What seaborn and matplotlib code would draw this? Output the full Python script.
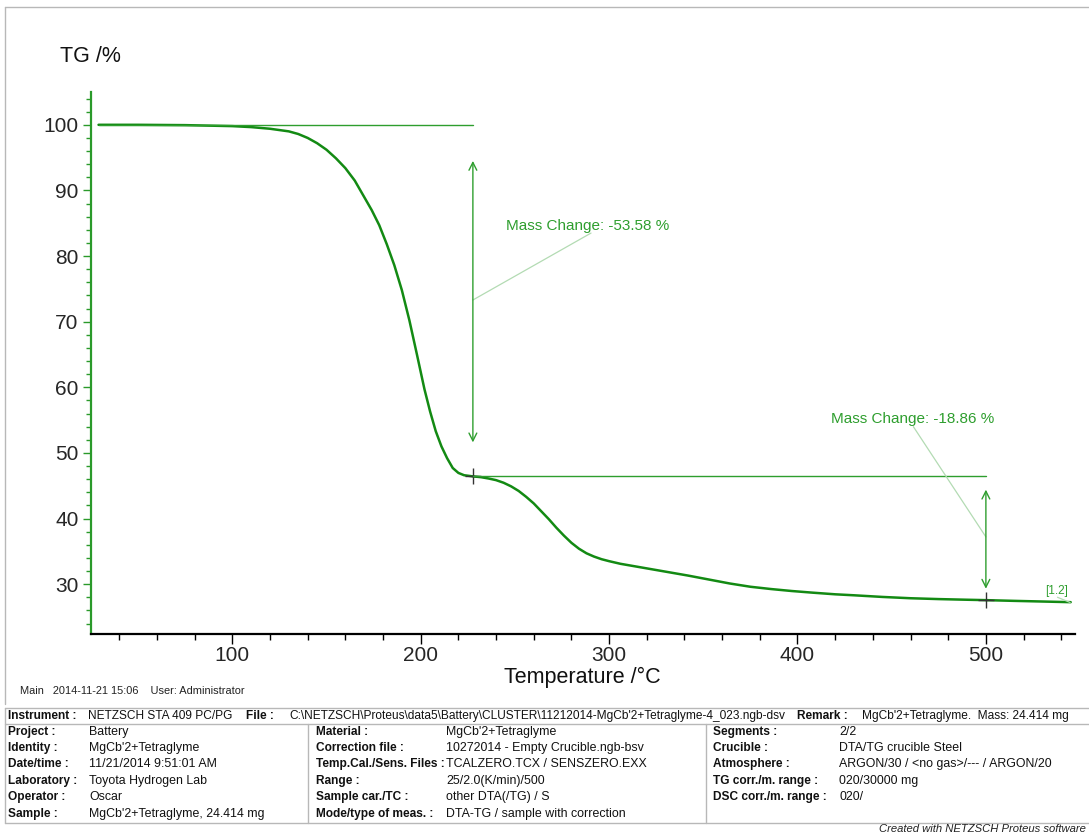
import matplotlib
matplotlib.use("Agg")
import matplotlib.pyplot as plt
from matplotlib.lines import Line2D
from matplotlib.ticker import MultipleLocator
import seaborn as sns
import pandas as pd

# ---------------- data ----------------
temperature = [29, 50, 75, 100, 110, 120, 130, 135, 140, 145, 150, 155, 160, 165,
               170, 174, 178, 182, 186, 190, 194, 198, 202, 205, 208, 211, 214,
               217, 220, 223, 227.7, 232, 236, 240, 244, 248, 252, 256, 260, 264,
               268, 272, 276, 280, 284, 288, 292, 296, 300, 306, 312, 320, 330,
               342, 353, 364, 375, 386, 397, 408, 420, 430, 445, 460, 475, 490,
               500, 515, 530, 545]
tg_percent = [100.0, 100.0, 99.95, 99.8, 99.65, 99.4, 99.0, 98.6, 98.0, 97.2,
              96.2, 94.9, 93.4, 91.5, 89.0, 87.0, 84.7, 81.8, 78.6, 74.8, 70.2,
              65.0, 59.7, 56.3, 53.3, 51.0, 49.2, 47.7, 46.95, 46.6, 46.42, 46.3,
              46.1, 45.85, 45.45, 44.9, 44.2, 43.3, 42.3, 41.1, 39.9, 38.6, 37.4,
              36.3, 35.4, 34.7, 34.2, 33.8, 33.5, 33.1, 32.8, 32.4, 31.9, 31.3,
              30.7, 30.1, 29.6, 29.25, 28.95, 28.7, 28.45, 28.3, 28.05, 27.85,
              27.72, 27.62, 27.56, 27.45, 27.35, 27.25]

step_start_temp = [29, 227.7]
step_end_temp = [227.7, 500]
step_start_tg = [100.0, 46.42]
mass_change = [-53.58, -18.86]
step_labels = ["Mass Change: -53.58 %", "Mass Change: -18.86 %"]

x_ticks = [100, 200, 300, 400, 500]
y_ticks = [30, 40, 50, 60, 70, 80, 90, 100]

info_header = [("Instrument :", True), ("NETZSCH STA 409 PC/PG", False),
               ("File :", True),
               ("C:\\NETZSCH\\Proteus\\data5\\Battery\\CLUSTER\\11212014-MgCb'2+Tetraglyme-4_023.ngb-dsv", False),
               ("Remark :", True), ("MgCb'2+Tetraglyme.  Mass: 24.414 mg", False)]
col1_labels = ["Project :", "Identity :", "Date/time :", "Laboratory :", "Operator :", "Sample :"]
col1_values = ["Battery", "MgCb'2+Tetraglyme", "11/21/2014 9:51:01 AM",
               "Toyota Hydrogen Lab", "Oscar", "MgCb'2+Tetraglyme, 24.414 mg"]
col2_labels = ["Material :", "Correction file :", "Temp.Cal./Sens. Files :", "Range :",
               "Sample car./TC :", "Mode/type of meas. :"]
col2_values = ["MgCb'2+Tetraglyme", "10272014 - Empty Crucible.ngb-bsv",
               "TCALZERO.TCX / SENSZERO.EXX", "25/2.0(K/min)/500",
               "other DTA(/TG) / S", "DTA-TG / sample with correction"]
col3_labels = ["Segments :", "Crucible :", "Atmosphere :", "TG corr./m. range :",
               "DSC corr./m. range :"]
col3_values = ["2/2", "DTA/TG crucible Steel", "ARGON/30 / <no gas>/--- / ARGON/20",
               "020/30000 mg", "020/"]

# ---------------- style ----------------
sns.set_theme(style="white")
plt.rcParams["font.family"] = ["Liberation Sans", "DejaVu Sans"]

W, H = 1089, 835
fig = plt.figure(figsize=(W / 100, H / 100), dpi=100)
fig.patch.set_facecolor("white")


def px(x, y):
    return x / W, 1 - y / H


CURVE = "#138a13"
ANNO = "#2e9e2e"
LEADER = "#b3dbb3"

ax = fig.add_axes([91 / W, 1 - 634 / H, 984 / W, 542 / H])
ax.set_facecolor("white")

df = pd.DataFrame({"Temperature": temperature, "TG": tg_percent})
sns.lineplot(data=df, x="Temperature", y="TG", ax=ax, color=CURVE, lw=1.8,
             sort=True, estimator=None, solid_joinstyle="round")

ax.set_xlim(25, 547.3)
ax.set_ylim(22.4, 105)
ax.set_xticks(x_ticks)
ax.set_yticks(y_ticks)
ax.xaxis.set_minor_locator(MultipleLocator(20))
ax.yaxis.set_minor_locator(MultipleLocator(2))
ax.tick_params(axis="x", which="major", direction="out", length=7, width=1,
               color="black", labelsize=15, pad=1.5, bottom=True)
ax.tick_params(axis="x", which="minor", direction="out", length=4, width=1,
               color="black", bottom=True)
ax.tick_params(axis="y", which="major", direction="out", length=6, width=1,
               color="#2a9a2a", labelsize=15, pad=3, left=True)
ax.tick_params(axis="y", which="minor", direction="out", length=3.5, width=1,
               color="#2a9a2a", left=True)
for s in ["top", "right"]:
    ax.spines[s].set_visible(False)
ax.spines["left"].set_color("#2a9a2a")
ax.spines["left"].set_linewidth(1.6)
ax.spines["bottom"].set_color("black")
ax.spines["bottom"].set_linewidth(1.6)
ax.set_xlabel("")
ax.set_ylabel("")

# step annotations
arrow_ranges = [(51.6, 94.5), (29.3, 44.4)]
leaders = [((227.7, 73.3), (290.4, 83.5)), ((500, 37.2), (461.5, 54.0))]
label_pos = [(245.2, 84.6), (417.6, 55.1)]
for i in range(2):
    ax.plot([step_start_temp[i], step_end_temp[i]], [step_start_tg[i]] * 2,
            color=ANNO, lw=1.0)
    lo, hi = arrow_ranges[i]
    ax.annotate("", xy=(step_end_temp[i], lo), xytext=(step_end_temp[i], hi),
                arrowprops=dict(arrowstyle="<->", color=ANNO, lw=1.0,
                                mutation_scale=14, shrinkA=0, shrinkB=0))
    (x0, y0), (x1, y1) = leaders[i]
    ax.plot([x0, x1], [y0, y1], color=LEADER, lw=0.9)
    ax.text(label_pos[i][0], label_pos[i][1], step_labels[i], color=ANNO,
            fontsize=11, ha="left", va="center")
    end_tg = step_start_tg[i] + mass_change[i]
    ax.plot([step_end_temp[i]], [end_tg if i == 1 else step_start_tg[1]],
            marker="+", ms=12, mew=1.0, color="#333333", ls="none")

ax.text(531.4, 29.0, "[1.2]", color=ANNO, fontsize=8.5, ha="left", va="center")
ax.plot([538.0, 544.7], [28.0, 27.2], color=LEADER, lw=0.9)

# axis titles
fig.text(*px(60, 57), "TG /%", fontsize=15.5, ha="left", va="center", color="#111111")
fig.text(*px(582, 677), "Temperature /°C", fontsize=15.5, ha="center", va="center",
         color="#111111")
fig.text(*px(20, 691), "Main   2014-11-21 15:06    User: Administrator", fontsize=7.9,
         ha="left", va="center", color="#222222")

# border around chart area
GRAY = "#b8b8b8"
for (xa, ya, xb, yb) in [(5, 7, 1095, 7), (5, 7, 5, 704)]:
    fig.add_artist(Line2D([px(xa, ya)[0], px(xb, yb)[0]],
                          [px(xa, ya)[1], px(xb, yb)[1]], color=GRAY, lw=1.0))

# table lines
for (xa, ya, xb, yb) in [(5, 708, 1095, 708), (5, 724, 1095, 724), (5, 823, 1095, 823),
                         (5, 708, 5, 823), (308, 724, 308, 823), (706, 724, 706, 823)]:
    fig.add_artist(Line2D([px(xa, ya)[0], px(xb, yb)[0]],
                          [px(xa, ya)[1], px(xb, yb)[1]], color=GRAY, lw=1.0))

TXT = "#111111"
FS_LAB = 8.6
FS_VAL = 8.9
header_x = [8, 88, 246, 289, 797, 862]
for (t, bold), hx in zip(info_header, header_x):
    fig.text(*px(hx, 716), t, fontsize=FS_LAB, fontweight="bold" if bold else "normal",
             ha="left", va="center", color=TXT)

row_y = [732, 748, 764, 781, 797, 814]
cols = [(8, 89, col1_labels, col1_values), (316, 446, col2_labels, col2_values),
        (713, 839, col3_labels, col3_values)]
for lx, vx, labs, vals in cols:
    for yy, lab, val in zip(row_y, labs, vals):
        fig.text(*px(lx, yy), lab, fontsize=FS_LAB, fontweight="bold", ha="left",
                 va="center", color=TXT)
        fig.text(*px(vx, yy), val, fontsize=FS_VAL, ha="left", va="center", color=TXT)

fig.text(*px(1086, 829), "Created with NETZSCH Proteus software", fontsize=8.1,
         style="italic", ha="right", va="center", color="#222222")

fig.savefig("out.png", dpi=100, facecolor="white")
